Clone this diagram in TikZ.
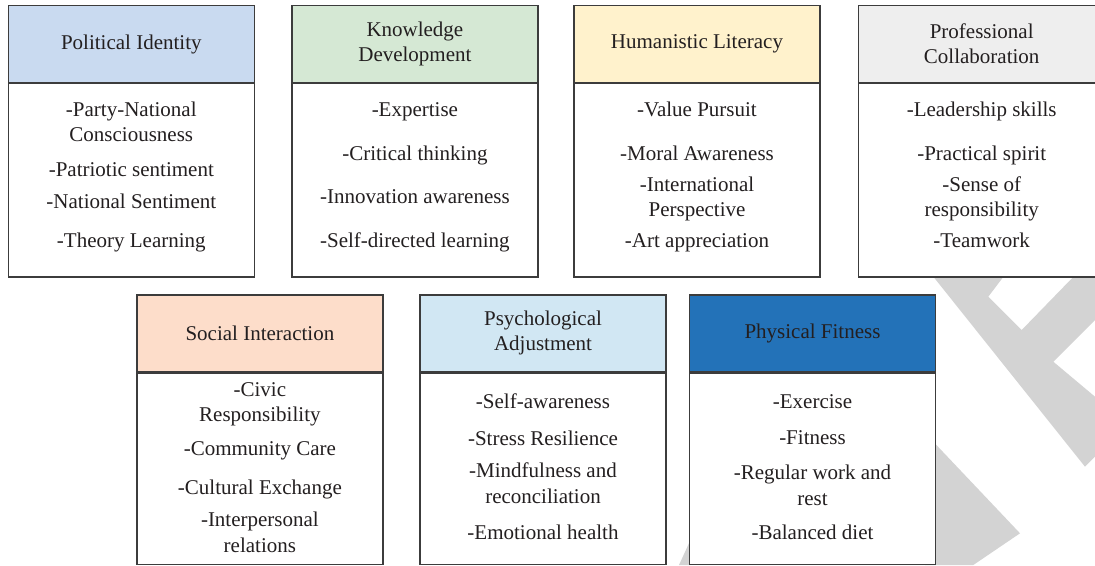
\documentclass[tikz,border=0pt]{standalone}
\usepackage{fontspec}
\setmainfont{Liberation Serif}
\definecolor{boxline}{HTML}{3C3C3C}
\definecolor{ink}{HTML}{231F20}
\definecolor{wmark}{HTML}{D3D3D3}
\definecolor{cPol}{HTML}{C9DAF0}
\definecolor{cKno}{HTML}{D5E8D4}
\definecolor{cHum}{HTML}{FFF2CC}
\definecolor{cPro}{HTML}{EEEEEE}
\definecolor{cSoc}{HTML}{FDDDCA}
\definecolor{cPsy}{HTML}{D1E7F3}
\definecolor{cPhy}{HTML}{2372B8}
\newcommand\boxtextfont{\fontsize{21}{25}\selectfont}
\begin{document}
\begin{tikzpicture}[x=1pt,y=-1pt,
  edge/.style={draw=boxline, line width=1.2pt},
  head/.style={edge, minimum width=246pt, minimum height=76.6pt, inner sep=0pt,
    align=center, font=\boxtextfont, text=ink},
  bodybox/.style={edge, fill=white, minimum width=246pt, inner sep=0pt, anchor=north},
  item/.style={anchor=base, inner sep=0pt, font=\boxtextfont, text=ink},
]
\useasboundingbox (0,0) rectangle (1095,565);
\fill[white] (0,0) rectangle (1095,565);

% light grey logo shapes behind the boxes
\fill[wmark] (928,270) -- (1085,466.7) -- (1095,456.7) -- (1095,396.7)
  -- (1053.3,361.7) -- (1095,320) -- (1095,270) -- (1080,270)
  -- (1021.7,330) -- (988.3,296.7) -- (1008.5,270) -- cycle;
\fill[wmark] (925,433) -- (1020,533.3) -- (973.3,565) -- (925,565) -- cycle;
\fill[wmark] (679,565) -- (690,541) -- (690,565) -- cycle;

% top row
\node[head, fill=cPol] (polH) at (131.3,44) {Political Identity};
\node[bodybox, minimum height=193.4pt] (polB) at (polH.south) {};
\node[head, fill=cKno] (knoH) at (414.9,44) {Knowledge\\Development};
\node[bodybox, minimum height=193.4pt] (knoB) at (knoH.south) {};
\node[head, fill=cHum] (humH) at (697,44) {Humanistic Literacy};
\node[bodybox, minimum height=193.4pt] (humB) at (humH.south) {};
\node[head, fill=cPro] (proH) at (981.7,44) {Professional\\Collaboration};
\node[bodybox, minimum height=193.4pt] (proB) at (proH.south) {};

% bottom row
\node[head, fill=cSoc, minimum height=76.7pt] (socH) at (259.9,333.4) {Social Interaction};
\node[bodybox, minimum height=191.8pt] (socB) at (socH.south) {};
\node[head, fill=cPsy, minimum height=76.7pt] (psyH) at (543,333.4) {Psychological\\Adjustment};
\node[bodybox, minimum height=191.8pt] (psyB) at (psyH.south) {};
\node[head, fill=cPhy, minimum height=76.7pt] (phyH) at (812.5,333.4) {Physical Fitness};
\node[bodybox, minimum height=191.8pt] (phyB) at (phyH.south) {};

% item lists, one line per node (text / baseline)
\foreach \t/\y [count=\i] in {-Party-National/116.5, Consciousness/141.5,
    -Patriotic sentiment/176.5, -National Sentiment/208.5, -Theory Learning/247.5}
  \node[item] (pol\i) at (131.3,\y) {\t};
\foreach \t/\y [count=\i] in {-Expertise/116.5, -Critical thinking/160.5,
    -Innovation awareness/203.5, -Self-directed learning/247.5}
  \node[item] (kno\i) at (414.9,\y) {\t};
\foreach \t/\y [count=\i] in {-Value Pursuit/116.5, -Moral Awareness/160.5,
    -International/191.5, Perspective/216.5, -Art appreciation/247.5}
  \node[item] (hum\i) at (697,\y) {\t};
\foreach \t/\y [count=\i] in {-Leadership skills/116.5, -Practical spirit/160.5,
    -Sense of/191.5, responsibility/216.5, -Teamwork/247.5}
  \node[item] (pro\i) at (981.7,\y) {\t};
\foreach \t/\y [count=\i] in {-Civic/396.5, Responsibility/421.5,
    -Community Care/455.5, -Cultural Exchange/494.5, -Interpersonal/526.5,
    relations/552.5}
  \node[item] (soc\i) at (259.9,\y) {\t};
\foreach \t/\y [count=\i] in {-Self-awareness/408.5, -Stress Resilience/445.5,
    -Mindfulness and/477.5, reconciliation/503.5, -Emotional health/539.5}
  \node[item] (psy\i) at (543,\y) {\t};
\foreach \t/\y [count=\i] in {-Exercise/408.5, -Fitness/444.5,
    -Regular work and/479.5, rest/505.5, -Balanced diet/539.5}
  \node[item] (phy\i) at (812.5,\y) {\t};
\end{tikzpicture}
\end{document}
